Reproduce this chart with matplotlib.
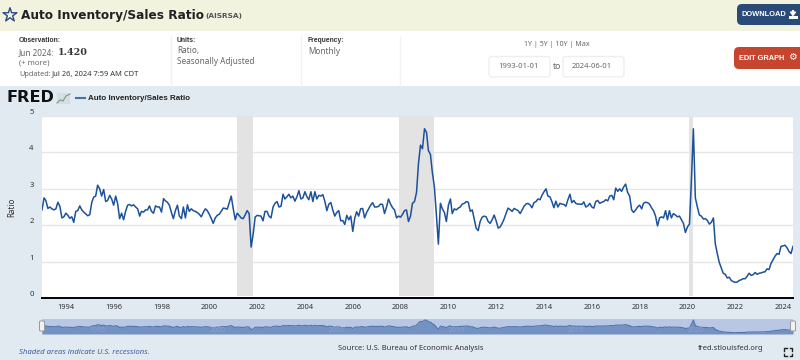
import matplotlib
matplotlib.use('Agg')
import matplotlib.pyplot as plt
import pandas as pd
from matplotlib.patches import FancyBboxPatch, Rectangle

plt.rcParams['font.family'] = ['Noto Sans', 'DejaVu Sans']

# monthly values, one list per year
y1993 = [2.42, 2.75, 2.68, 2.46, 2.50, 2.45, 2.42, 2.45, 2.63, 2.52, 2.20, 2.23]
y1994 = [2.33, 2.27, 2.19, 2.23, 2.08, 2.38, 2.40, 2.53, 2.42, 2.36, 2.31, 2.26]
y1995 = [2.29, 2.63, 2.77, 2.80, 3.10, 3.00, 2.80, 2.98, 2.65, 2.68, 2.82, 2.72]
y1996 = [2.55, 2.80, 2.60, 2.18, 2.33, 2.15, 2.38, 2.55, 2.57, 2.53, 2.56, 2.50]
y1997 = [2.45, 2.25, 2.38, 2.36, 2.42, 2.42, 2.53, 2.38, 2.33, 2.53, 2.50, 2.50]
y1998 = [2.36, 2.73, 2.67, 2.63, 2.55, 2.35, 2.18, 2.40, 2.55, 2.25, 2.18, 2.50]
y1999 = [2.20, 2.56, 2.38, 2.45, 2.40, 2.38, 2.35, 2.30, 2.23, 2.35, 2.45, 2.40]
y2000 = [2.30, 2.18, 2.05, 2.20, 2.27, 2.30, 2.38, 2.47, 2.46, 2.44, 2.62, 2.80]
y2001 = [2.45, 2.15, 2.33, 2.27, 2.20, 2.18, 2.28, 2.40, 2.32, 1.40, 1.75, 2.22]
y2002 = [2.27, 2.26, 2.25, 2.12, 2.38, 2.38, 2.25, 2.20, 2.50, 2.60, 2.65, 2.50]
y2003 = [2.52, 2.85, 2.72, 2.78, 2.85, 2.75, 2.80, 2.66, 2.78, 2.95, 2.72, 2.75]
y2004 = [2.92, 2.78, 2.70, 2.92, 2.65, 2.92, 2.72, 2.82, 2.80, 2.84, 2.65, 2.40]
y2005 = [2.58, 2.62, 2.42, 2.25, 2.35, 2.40, 2.12, 2.13, 2.02, 2.27, 2.15, 2.25]
y2006 = [1.83, 2.20, 2.37, 2.25, 2.45, 2.46, 2.20, 2.35, 2.45, 2.55, 2.62, 2.50]
y2007 = [2.50, 2.52, 2.58, 2.57, 2.32, 2.50, 2.72, 2.58, 2.48, 2.42, 2.20, 2.25]
y2008 = [2.22, 2.30, 2.40, 2.42, 2.10, 2.25, 2.60, 2.65, 2.90, 3.70, 4.20, 4.10]
y2009 = [4.65, 4.55, 4.05, 3.95, 3.45, 3.05, 2.30, 1.48, 2.60, 2.45, 2.35, 2.10]
y2010 = [2.55, 2.72, 2.32, 2.45, 2.42, 2.47, 2.50, 2.58, 2.60, 2.65, 2.63, 2.38]
y2011 = [2.42, 2.15, 1.92, 1.85, 2.10, 2.22, 2.25, 2.23, 2.10, 2.05, 2.15, 2.28]
y2012 = [2.12, 1.92, 1.95, 2.05, 2.17, 2.33, 2.47, 2.43, 2.38, 2.46, 2.43, 2.40]
y2013 = [2.32, 2.42, 2.52, 2.58, 2.60, 2.56, 2.48, 2.62, 2.65, 2.72, 2.70, 2.82]
y2014 = [2.92, 3.00, 2.80, 2.78, 2.65, 2.48, 2.66, 2.50, 2.60, 2.58, 2.57, 2.52]
y2015 = [2.70, 2.85, 2.62, 2.68, 2.60, 2.58, 2.58, 2.57, 2.64, 2.50, 2.53, 2.60]
y2016 = [2.50, 2.47, 2.65, 2.68, 2.60, 2.63, 2.65, 2.70, 2.67, 2.80, 2.82, 2.70]
y2017 = [3.02, 2.93, 3.00, 2.93, 3.05, 3.13, 2.90, 2.80, 2.42, 2.35, 2.42, 2.50]
y2018 = [2.55, 2.45, 2.60, 2.63, 2.62, 2.58, 2.48, 2.40, 2.25, 1.98, 2.20, 2.23]
y2019 = [2.20, 2.40, 2.15, 2.40, 2.20, 2.32, 2.28, 2.23, 2.25, 2.15, 2.05, 1.80]
y2020 = [1.95, 2.03, 3.20, 4.65, 2.75, 2.50, 2.28, 2.25, 2.17, 2.18, 2.13, 2.03]
y2021 = [2.08, 2.20, 1.50, 1.22, 0.98, 0.83, 0.68, 0.65, 0.55, 0.57, 0.48, 0.45]
y2022 = [0.43, 0.44, 0.48, 0.50, 0.53, 0.53, 0.60, 0.68, 0.62, 0.64, 0.70, 0.65]
y2023 = [0.68, 0.69, 0.71, 0.72, 0.80, 0.78, 0.95, 1.05, 1.15, 1.22, 1.20, 1.42]
y2024 = [1.43, 1.45, 1.38, 1.28, 1.22, 1.42]

ratio = (y1993 + y1994 + y1995 + y1996 + y1997 + y1998 + y1999 + y2000 + y2001 + y2002
         + y2003 + y2004 + y2005 + y2006 + y2007 + y2008 + y2009 + y2010 + y2011 + y2012
         + y2013 + y2014 + y2015 + y2016 + y2017 + y2018 + y2019 + y2020 + y2021 + y2022
         + y2023 + y2024)
dates = pd.date_range('1993-01-01', '2024-06-01', freq='MS')

recession_start = ['2001-03-01', '2007-12-01', '2020-02-01']
recession_end = ['2001-11-01', '2009-06-01', '2020-04-01']
x_tick_years = list(range(1994, 2026, 2))
y_ticks = [0, 1, 2, 3, 4, 5]
nav_years = [1995, 2000, 2005, 2010, 2015, 2020]

W, H = 800, 360
LINE = '#1d5199'
TEXT = '#333333'
GREY = '#666666'
PAGE = '#e1e9f1'
BOLD = 'Liberation Sans'   # Noto Sans has no bold face here


def px_axes(fig, left, top, right, bottom):
    """axes placed with pixel coordinates measured from the top left"""
    return fig.add_axes([left / W, 1 - bottom / H, (right - left) / W, (bottom - top) / H])


fig = plt.figure(figsize=(8, 3.6), dpi=100)

# page furniture, drawn in pixel coordinates
bg = fig.add_axes([0, 0, 1, 1])
bg.set_xlim(0, W)
bg.set_ylim(H, 0)
bg.axis('off')
bg.add_patch(Rectangle((0, 0), W, 31, fc='#f1f3df', ec='none'))
bg.add_patch(Rectangle((0, 86), W, H - 86, fc=PAGE, ec='none'))
for x in [171, 301, 400]:
    bg.plot([x, x], [36, 86], color='#f2f2f2', lw=1)

bg.scatter([10], [15], marker='*', s=110, fc='none', ec='#2b4a86', lw=1)
bg.text(21, 15, 'Auto Inventory/Sales Ratio', fontsize=8.7, fontweight='bold', color='#222222', va='center',
        family='DejaVu Sans')
bg.text(205, 16, '(AISRSA)', fontsize=5.3, fontweight='bold', color='#555555', va='center', family='DejaVu Sans')

bg.text(19, 41, 'Observation:', fontsize=4.9, fontweight='bold', color=TEXT, va='center', family=BOLD)
bg.text(19, 52.5, 'Jun 2024:', fontsize=5.9, color=GREY, va='center')
bg.text(58, 52.5, '1.420', fontsize=6.8, fontweight='bold', color=TEXT, va='center',
        family='DejaVu Serif')
bg.text(19, 63, '(+ more)', fontsize=5.6, color=GREY, va='center')
bg.text(19, 74, 'Updated:', fontsize=5.3, color=GREY, va='center')
bg.text(52, 74, 'Jul 26, 2024 7:59 AM CDT', fontsize=5.4, color=TEXT, va='center')
bg.text(177, 41, 'Units:', fontsize=4.9, fontweight='bold', color=TEXT, va='center', family=BOLD)
bg.text(177, 51, 'Ratio,', fontsize=5.9, color=GREY, va='center')
bg.text(177, 62, 'Seasonally Adjusted', fontsize=5.9, color=GREY, va='center')
bg.text(308, 41, 'Frequency:', fontsize=4.9, fontweight='bold', color=TEXT, va='center', family=BOLD)
bg.text(308, 51, 'Monthly', fontsize=5.9, color=GREY, va='center')

bg.text(557, 45, '1Y | 5Y | 10Y | Max', fontsize=5.1, color=GREY, ha='center', va='center')
for x0, label in [(489, '1993-01-01'), (563, '2024-06-01')]:
    bg.add_patch(FancyBboxPatch((x0, 56.5), 61, 20.5, boxstyle='round,pad=0,rounding_size=3',
                                fc='white', ec='#eeeeee', lw=1))
    bg.text(x0 + 9, 67, label, fontsize=5.5, color=GREY, va='center')
bg.text(557, 66.5, 'to', fontsize=6.2, color=GREY, ha='center', va='center')

bg.add_patch(FancyBboxPatch((737, 4), 70, 21, boxstyle='round,pad=0,rounding_size=5', fc='#2a4a78', ec='none'))
bg.text(742, 14.5, 'DOWNLOAD', fontsize=5.4, color='white', fontweight='bold', va='center', family=BOLD)
bg.fill([790.5, 795.5, 793], [12, 12, 15.5], color='white')
bg.add_patch(Rectangle((792, 9.5), 2, 4, fc='white', ec='none'))
bg.add_patch(Rectangle((789, 16), 8.5, 2.5, fc='white', ec='none'))
bg.add_patch(FancyBboxPatch((734, 47), 70, 22, boxstyle='round,pad=0,rounding_size=5', fc='#c5452f', ec='none'))
bg.text(739, 58, 'EDIT GRAPH', fontsize=5.3, color='white', fontweight='bold', va='center', family=BOLD)
bg.text(792, 57.5, '\u2699', fontsize=7, color='white', ha='center', va='center', family='DejaVu Sans')

# logo and legend
bg.text(6.5, 98, 'FRED', fontsize=11.6, fontweight='bold', color='#111111', va='center', family='DejaVu Sans')
bg.add_patch(Rectangle((57, 93), 13, 11, fc='#d5dde4', ec='none'))
bg.plot([57, 60, 63, 66, 70], [103, 100, 101, 96, 94], color='#7d9a7d', lw=0.8)
bg.plot([76, 85], [98, 98], color='#4572a7', lw=1.5)
bg.text(88, 98, 'Auto Inventory/Sales Ratio', fontsize=5.8, fontweight='bold', color='#222222', va='center',
        family=BOLD)

# footer
bg.text(19, 352, 'Shaded areas indicate U.S. recessions.', fontsize=5.6, style='italic', color='#3f5f9f', va='center')
bg.text(338, 349, 'Source: U.S. Bureau of Economic Analysis', fontsize=5.4, color=TEXT, va='center')
bg.text(698, 349, 'fred.stlouisfed.org', fontsize=5.4, color=TEXT, va='center')
for sx, sy in [(784, 348), (792, 348), (784, 356), (792, 356)]:
    dx = 2.5 if sx < 788 else -2.5
    dy = 2.5 if sy < 352 else -2.5
    bg.plot([sx + dx, sx, sx], [sy, sy, sy + dy], color='#222222', lw=1)

# main chart
ax = px_axes(fig, 42, 116, 793, 298)
ax.set_facecolor('white')
ax.plot(dates, ratio, color=LINE, lw=1.1, zorder=3)
for start, end in zip(recession_start, recession_end):
    ax.axvspan(pd.Timestamp(start), pd.Timestamp(end), ymin=0.012, color='#e3e3e3', lw=0, zorder=2)
ax.set_xlim(dates[0], dates[-1])
ax.set_ylim(0, 5)
ax.set_yticks(y_ticks)
ax.set_xticks([pd.Timestamp(str(y) + '-01-01') for y in x_tick_years])
ax.set_xticklabels([str(y) for y in x_tick_years])
ax.grid(axis='y', color='#e6e6e6', lw=1)
ax.set_axisbelow(True)
for side in ['top', 'left', 'right']:
    ax.spines[side].set_visible(False)
ax.spines['bottom'].set_color('black')
ax.spines['bottom'].set_linewidth(1.4)
ax.tick_params(axis='x', length=0, pad=4, labelsize=5.4, labelcolor=TEXT)
ax.tick_params(axis='y', length=0, pad=6, labelsize=5.6, labelcolor=TEXT)
for lab in ax.get_yticklabels():
    lab.set_va('bottom')
ax.set_ylabel('Ratio', fontsize=5.8, color=TEXT, labelpad=9)

# navigator strip
nav = px_axes(fig, 42, 319, 793, 334)
nav.set_facecolor('#b8c7e3')
nav.fill_between(dates, ratio, 0, color='#7391c2', lw=0)
nav.plot(dates, ratio, color='#4f75ad', lw=0.8)
nav.set_xlim(dates[0], dates[-1])
nav.set_ylim(0, 5)
nav.axis('off')
nav.add_patch(Rectangle((0, 0), 1, 1, transform=nav.transAxes, fc='#b8c7e3', ec='none', zorder=0))
for y in nav_years:
    nav.text(pd.Timestamp(str(y) + '-01-01'), 1.1, str(y), fontsize=5, color='#8ea3c8', va='center')

# navigator handles sit above everything else
top = fig.add_axes([0, 0, 1, 1])
top.set_xlim(0, W)
top.set_ylim(H, 0)
top.axis('off')
for x in [42, 793]:
    top.add_patch(FancyBboxPatch((x - 2.5, 321), 5, 10, boxstyle='round,pad=0,rounding_size=1',
                                 fc='#f2f2f2', ec='#999999', lw=0.7))

fig.savefig('out.png', dpi=100)
